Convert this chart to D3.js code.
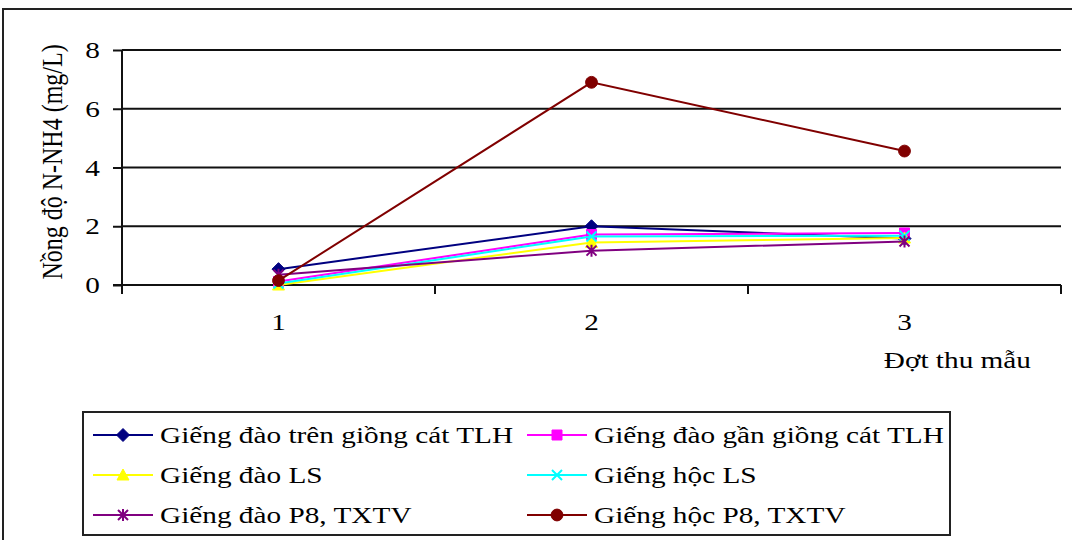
<!DOCTYPE html>
<html>
<head>
<meta charset="utf-8">
<script src="https://cdn.jsdelivr.net/npm/d3@7"></script>
<style>
  html, body { margin: 0; padding: 0; background: #fff; }
  svg { display: block; }
  text { font-family: "Liberation Serif", "Times New Roman", serif; fill: #000; }
</style>
</head>
<body>
<svg id="chart" width="1072" height="540"></svg>
<script>
// Sampling rounds
const categories = ["1", "2", "3"];
const yTicks = [0, 2, 4, 6, 8];

// N-NH4 concentration (mg/L) per well
const seriesNames = [
  "Giếng đào trên giồng cát TLH",
  "Giếng đào gần giồng cát TLH",
  "Giếng đào LS",
  "Giếng hộc LS",
  "Giếng đào P8, TXTV",
  "Giếng hộc P8, TXTV"
];
const gieng_dao_tren_giong_TLH = [0.54, 2.0, 1.58];
const gieng_dao_gan_giong_TLH = [0.12, 1.72, 1.77];
const gieng_dao_LS = [0.0, 1.45, 1.6];
const gieng_hoc_LS = [0.05, 1.65, 1.68];
const gieng_dao_P8 = [0.35, 1.17, 1.48];
const gieng_hoc_P8 = [0.15, 6.9, 4.56];

const seriesValues = [
  gieng_dao_tren_giong_TLH,
  gieng_dao_gan_giong_TLH,
  gieng_dao_LS,
  gieng_hoc_LS,
  gieng_dao_P8,
  gieng_hoc_P8
];
const seriesColors = ["#000080", "#ff00ff", "#ffff00", "#00ffff", "#800080", "#800000"];
const seriesMarkers = ["diamond", "square", "triangle", "cross", "star", "circle"];

const svg = d3.select("#chart");
const STRETCH = 1.22;   // horizontal widening of the serif lettering
const FONT = 24;

const plot = { left: 122, right: 1061, top: 50, bottom: 285 };

const x = d3.scaleBand().domain(categories).range([plot.left, plot.right]).padding(0);
const y = d3.scaleLinear().domain([0, 8]).range([plot.bottom, plot.top]);

// outer frame (open at right and bottom edges)
svg.append("path")
  .attr("d", "M3,541V9H1073")
  .attr("fill", "none").attr("stroke", "#222").attr("stroke-width", 2);

// horizontal gridlines
svg.append("g").selectAll("line")
  .data(yTicks.filter(d => d > 0))
  .join("line")
  .attr("x1", plot.left).attr("x2", plot.right)
  .attr("y1", d => y(d)).attr("y2", d => y(d))
  .attr("stroke", "#111").attr("stroke-width", 2);

// y axis
const yAxis = svg.append("g")
  .attr("transform", `translate(${plot.left},0)`)
  .call(d3.axisLeft(y).tickValues(yTicks).tickSize(9).tickFormat(""));
yAxis.select(".domain").attr("stroke", "#111").attr("stroke-width", 2).attr("d", `M0,${plot.top}V${plot.bottom}`);
yAxis.selectAll(".tick line").attr("stroke", "#111").attr("stroke-width", 2);

svg.append("g").selectAll("text")
  .data(yTicks)
  .join("text")
  .attr("transform", d => `translate(100,${y(d) + 8}) scale(${STRETCH},1)`)
  .attr("text-anchor", "end")
  .attr("font-size", FONT)
  .text(d => d);

// x axis with ticks at category boundaries
const xBounds = categories.map(c => x(c)).concat([x(categories[categories.length - 1]) + x.bandwidth()]);
svg.append("line")
  .attr("x1", plot.left - 9).attr("x2", plot.right)
  .attr("y1", plot.bottom).attr("y2", plot.bottom)
  .attr("stroke", "#111").attr("stroke-width", 2);
svg.append("g").selectAll("line")
  .data(xBounds)
  .join("line")
  .attr("x1", d => d).attr("x2", d => d)
  .attr("y1", plot.bottom).attr("y2", plot.bottom + 9)
  .attr("stroke", "#111").attr("stroke-width", 2);

svg.append("g").selectAll("text")
  .data(categories)
  .join("text")
  .attr("transform", d => `translate(${x(d) + x.bandwidth() / 2},330) scale(${STRETCH},1)`)
  .attr("text-anchor", "middle")
  .attr("font-size", FONT)
  .text(d => d);

// axis titles
svg.append("text")
  .attr("transform", `translate(1031,368) scale(${STRETCH},1)`)
  .attr("text-anchor", "end")
  .attr("font-size", FONT)
  .text("Đợt thu mẫu");

svg.append("text")
  .attr("transform", `translate(62,162) rotate(-90) scale(1,${STRETCH})`)
  .attr("text-anchor", "middle")
  .attr("font-size", FONT)
  .text("Nồng độ N-NH4 (mg/L)");

// marker shapes
function markerPath(type) {
  switch (type) {
    case "diamond": return "M0,-6.5L6.5,0L0,6.5L-6.5,0Z";
    case "square": return "M-5,-5H5V5H-5Z";
    case "triangle": return "M0,-6L6,5H-6Z";
    case "cross": return "M-5,-5L5,5M-5,5L5,-5";
    case "star": return "M-5,-5L5,5M-5,5L5,-5M0,-6V6";
    case "circle": return d3.symbol(d3.symbolCircle, 110)();
  }
}
function drawMarker(g, type, color) {
  const stroked = type === "cross" || type === "star";
  g.append("path")
    .attr("d", markerPath(type))
    .attr("fill", stroked ? "none" : color)
    .attr("stroke", color)
    .attr("stroke-width", stroked ? 2 : 1);
}

// series lines and markers
const line = d3.line()
  .x((d, i) => x(categories[i]) + x.bandwidth() / 2)
  .y(d => y(d));

seriesValues.forEach((vals, s) => {
  const g = svg.append("g");
  g.append("path")
    .attr("d", line(vals))
    .attr("fill", "none")
    .attr("stroke", seriesColors[s])
    .attr("stroke-width", 2);
  vals.forEach((v, i) => {
    const m = g.append("g")
      .attr("transform", `translate(${x(categories[i]) + x.bandwidth() / 2},${y(v)})`);
    drawMarker(m, seriesMarkers[s], seriesColors[s]);
  });
});

// legend
svg.append("rect")
  .attr("x", 83).attr("y", 412).attr("width", 867).attr("height", 123)
  .attr("fill", "none").attr("stroke", "#222").attr("stroke-width", 2);

const legendCols = [93, 527];
const legendRows = [435, 475, 515];
seriesNames.forEach((name, s) => {
  const lx = legendCols[s % 2];
  const ly = legendRows[Math.floor(s / 2)];
  const g = svg.append("g");
  g.append("line")
    .attr("x1", lx).attr("x2", lx + 60)
    .attr("y1", ly).attr("y2", ly)
    .attr("stroke", seriesColors[s]).attr("stroke-width", 2);
  const m = g.append("g").attr("transform", `translate(${lx + 30},${ly})`);
  drawMarker(m, seriesMarkers[s], seriesColors[s]);
  g.append("text")
    .attr("transform", `translate(${lx + 67},${ly + 8}) scale(${STRETCH},1)`)
    .attr("font-size", FONT)
    .text(name);
});
</script>
</body>
</html>
